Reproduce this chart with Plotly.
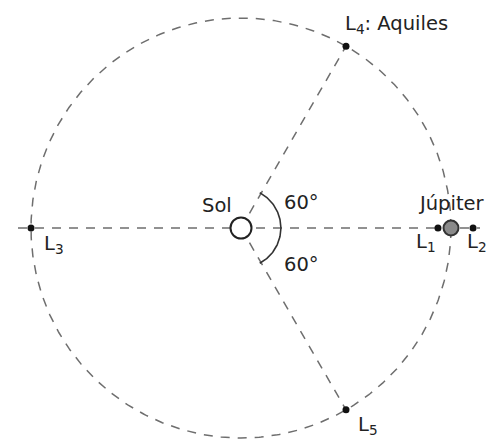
import numpy as np
import plotly.graph_objects as go

# --- data ---
lagrange_names = ["L1", "L2", "L3", "L4", "L5"]
lagrange_angles_deg = [0, 0, 180, 60, -60]
lagrange_radii = [0.938, 1.105, 1.0, 1.0, 1.0]
jupiter_angle_deg = 0
jupiter_radius = 1.0
orbit_radius = 1.0
angle_labels = ["60°", "60°"]

# --- layout helpers (pixel geometry) ---
W, H = 489, 439
CX, CY, U = 241, 228, 210  # sun position in px, px per unit


def px(x, y):
    return (x - CX) / U, (CY - y) / U


def polar(r, a):
    a = np.radians(a)
    return r * np.cos(a), r * np.sin(a)


DASH_COLOR = "#6e6e6e"
TEXT_COLOR = "#222222"
FONT = "DejaVu Sans, sans-serif"
DASH = "9px,8px"

fig = go.Figure()

# orbit circle
t = np.linspace(0, 360, 721)
ox, oy = polar(orbit_radius, t)
fig.add_trace(go.Scatter(x=ox, y=oy, mode="lines",
                         line=dict(color=DASH_COLOR, width=1.5, dash=DASH),
                         hoverinfo="skip"))

# horizontal axis line
hx0, _ = px(18, 0)
hx1, _ = px(480, 0)
fig.add_trace(go.Scatter(x=[hx0, hx1], y=[0, 0], mode="lines",
                         line=dict(color=DASH_COLOR, width=1.5, dash=DASH),
                         hoverinfo="skip"))

# radial lines to L4 and L5
for name in ["L4", "L5"]:
    i = lagrange_names.index(name)
    lx, ly = polar(lagrange_radii[i], lagrange_angles_deg[i])
    fig.add_trace(go.Scatter(x=[0, lx], y=[0, ly], mode="lines",
                             line=dict(color=DASH_COLOR, width=1.5, dash=DASH),
                             hoverinfo="skip"))

# angle arc
ta = np.linspace(-62, 62, 100)
ax_, ay_ = polar(0.19, ta)
fig.add_trace(go.Scatter(x=ax_, y=ay_, mode="lines",
                         line=dict(color="#333333", width=1.6), hoverinfo="skip"))

# Sun
fig.add_trace(go.Scatter(x=[0], y=[0], mode="markers",
                         marker=dict(size=21, color="white",
                                     line=dict(color="#222222", width=2)),
                         hoverinfo="skip"))

# Jupiter
jx, jy = polar(jupiter_radius, jupiter_angle_deg)
fig.add_trace(go.Scatter(x=[jx], y=[jy], mode="markers",
                         marker=dict(size=15, color="#8a8a8a",
                                     line=dict(color="#333333", width=2)),
                         hoverinfo="skip"))

# Lagrange points
lx, ly = polar(np.array(lagrange_radii), np.array(lagrange_angles_deg))
fig.add_trace(go.Scatter(x=lx, y=ly, mode="markers",
                         marker=dict(size=7, color="#111111"),
                         hoverinfo="skip"))

# labels
labels = [
    ("Sol", 217, 205),
    (angle_labels[0], 301, 202),
    (angle_labels[1], 301, 264),
    ("L<sub>4</sub>: Aquiles", 396, 24),
    ("Júpiter", 451, 203),
    ("L<sub>1</sub>", 426, 242),
    ("L<sub>2</sub>", 477, 242),
    ("L<sub>3</sub>", 54, 244),
    ("L<sub>5</sub>", 368, 425),
]
for txt, x, y in labels:
    dx, dy = px(x, y)
    fig.add_annotation(x=dx, y=dy, text=txt, showarrow=False,
                       font=dict(family=FONT, size=19.5, color=TEXT_COLOR),
                       xanchor="center", yanchor="middle")

x0, y1 = px(0, 0)
x1, y0 = px(W, H)
fig.update_layout(
    width=W, height=H,
    margin=dict(l=0, r=0, t=0, b=0),
    paper_bgcolor="white", plot_bgcolor="white",
    showlegend=False,
    xaxis=dict(range=[x0, x1], visible=False, fixedrange=True),
    yaxis=dict(range=[y0, y1], visible=False, fixedrange=True),
)

fig.write_html("out.html", config={"displayModeBar": False},
               post_script="document.body.style.margin='0';document.body.style.overflow='hidden';")
